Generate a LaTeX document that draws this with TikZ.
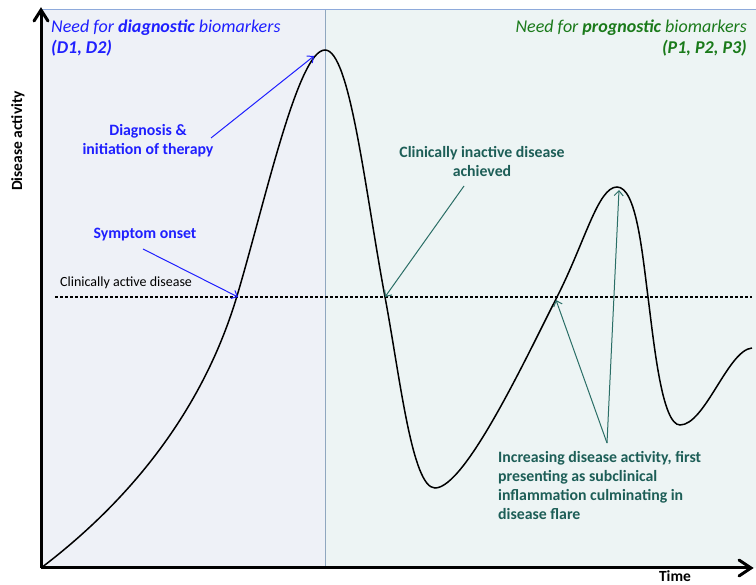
\documentclass[tikz,border=0pt]{standalone}
\usepackage{fontspec}
\setmainfont{Carlito}
\usetikzlibrary{arrows.meta}
\definecolor{leftbg}{HTML}{EEF1F7}
\definecolor{rightbg}{HTML}{EDF4F4}
\definecolor{frameblue}{HTML}{8EAADB}
\definecolor{divider}{HTML}{8FA7BF}
\definecolor{diagblue}{HTML}{1F1FFF}
\definecolor{proggreen}{HTML}{1A7A1A}
\definecolor{tealtxt}{HTML}{1D5E57}
\definecolor{tealarr}{HTML}{2A6E66}
\tikzset{
  axisline/.style={line width=3pt},
  chevron/.style={line width=3pt,line cap=round,line join=miter},
  bluearrow/.style={draw=diagblue,line width=1pt,-{Straight Barb[length=5pt,width=9pt]}},
  tealarrow/.style={draw=tealarr,line width=1pt,-{Straight Barb[length=5pt,width=9pt]}},
  titletext/.style={font=\fontsize{18}{21}\selectfont\itshape,inner sep=0pt},
  bluelbl/.style={font=\fontsize{15.8}{19}\selectfont\bfseries,text=diagblue,align=center,inner sep=1pt},
  teallbl/.style={font=\fontsize{15.8}{19}\selectfont\bfseries,text=tealtxt,inner sep=1pt},
  curve/.style={line width=1.5pt,black}
}
\begin{document}
\begin{tikzpicture}[x=1pt,y=-1pt]
\useasboundingbox (0,0) rectangle (756,585);
% panels
\fill[leftbg] (41,10) rectangle (325,568);
\fill[rightbg] (325,10) rectangle (756,568);
\draw[frameblue,line width=1pt] (41,10) -- (756,10);
\draw[divider,line width=1pt] (325,10) -- (325,568);
% titles
\node[titletext,text=diagblue,anchor=base west] (dt1) at (51,33) {Need for \textbf{diagnostic} biomarkers};
\node[titletext,text=diagblue,anchor=base west] (dt2) at (51,54) {\textbf{(D1, D2)}};
\node[titletext,text=proggreen,anchor=base east] (pt1) at (747,33) {Need for \textbf{prognostic} biomarkers};
\node[titletext,text=proggreen,anchor=base east] (pt2) at (747,54) {\textbf{(P1, P2, P3)}};
% threshold
\coordinate (thrL) at (55,297);
\coordinate (thrR) at (752,297);
\draw[line width=1.1pt,dash pattern=on 3pt off 2pt] (thrL) -- (thrR);
\node[font=\fontsize{14}{16}\selectfont,anchor=west,inner sep=0pt] (cad) at (60,283) {Clinically active disease};
% curve
\draw[curve] (41,568) .. controls (120,508) and (200,420) .. (237,296)
  .. controls (265,202) and (298,50) .. (325,50)
  .. controls (350,50) and (365,190) .. (385,297)
  .. controls (400,377) and (412,488) .. (435,488)
  .. controls (465,488) and (525,360) .. (557,297)
  .. controls (585,242) and (598,187) .. (617,187)
  .. controls (636,187) and (642,250) .. (648,297)
  .. controls (654,344) and (662,425) .. (680,425)
  .. controls (705,425) and (728,350) .. (752,348);
% axes
\coordinate (origin) at (41,568);
\coordinate (ytop) at (41,10);
\coordinate (xend) at (751,568);
\coordinate (ytipL) at (34,21);
\coordinate (ytipR) at (48,21);
\coordinate (xtipU) at (739,560);
\coordinate (xtipD) at (739,576);
\draw[axisline] (origin) -- (ytop);
\draw[axisline] (origin) -- (xend);
\draw[chevron] (ytipL) -- (ytop) -- (ytipR);
\draw[chevron] (xtipU) -- (xend) -- (xtipD);
\node[font=\fontsize{15.5}{18}\selectfont\bfseries,rotate=90] (ylab) at (18,141) {Disease activity};
\node[font=\fontsize{15.5}{18}\selectfont\bfseries,inner sep=0pt,anchor=base] (xlab) at (675,582) {Time};
% key points
\coordinate (onset) at (238,297);
\coordinate (peak) at (314,56);
\coordinate (inactive) at (385,297);
\coordinate (flarecross) at (556,300);
\coordinate (flarepeak) at (619,190);
% labels
\node[bluelbl] (diag) at (148,141) {Diagnosis \&\\initiation of therapy};
\coordinate (diagstart) at (211,138);
\draw[bluearrow] (diagstart) -- (peak);
\node[bluelbl] (symp) at (145,235) {Symptom onset};
\coordinate (sympstart) at (143,249);
\draw[bluearrow] (sympstart) -- (onset);
\node[teallbl,align=center] (inact) at (482,162) {Clinically inactive disease\\achieved};
\coordinate (inactstart) at (464,186);
\draw[tealarrow] (inactstart) -- (inactive);
\node[teallbl,align=left,anchor=west] (flare) at (497,486) {Increasing disease activity, first\\presenting as subclinical\\inflammation culminating in\\disease flare};
\coordinate (flarestart) at (607,443);
\draw[tealarrow] (flarestart) -- (flarecross);
\draw[tealarrow] (flarestart) -- (flarepeak);
\end{tikzpicture}
\end{document}
